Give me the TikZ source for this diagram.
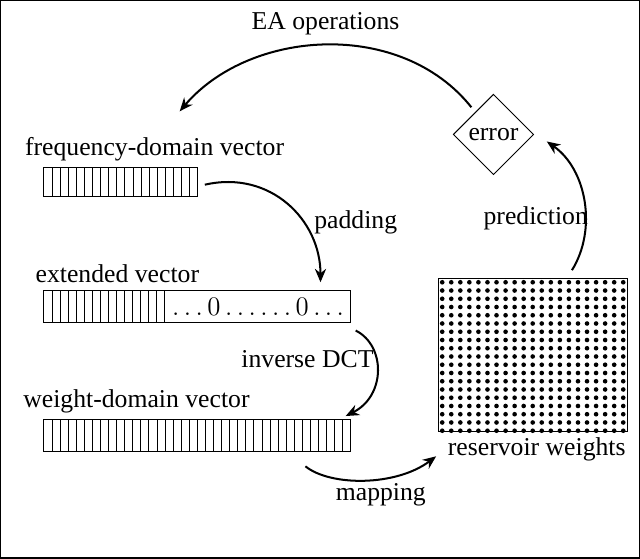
\documentclass[tikz,border=0pt]{standalone}
\usepackage{fontspec}
\setmainfont{Liberation Serif}
\usetikzlibrary{shapes.geometric,arrows.meta}
\begin{document}
\begin{tikzpicture}[x=0.45pt,y=-0.45pt,font=\fontsize{11.5}{13}\selectfont,
  conn/.style={-{Stealth[length=6pt,width=5pt]},line width=0.9pt},
  lbl/.style={inner sep=1pt}]
\draw[line width=0.6pt] (2,2) rectangle (637,556);
% frequency-domain vector
\draw (45,168) rectangle (198,197);
\foreach \i in {1,...,18} \draw (45+\i*8.05,168) -- (45+\i*8.05,197);
\coordinate (fv) at (205,185);
\node[lbl] (fl) at (155,150) {frequency-domain vector};
% extended vector
\draw (45,290) rectangle (350,322);
\foreach \i in {1,...,15} \draw (45+\i*8,290) -- (45+\i*8,322);
\node[lbl] (ez) at (258,306) {$\ldots0\ldots\ldots0\ldots$};
\node[lbl] (el) at (118,273) {extended vector};
% weight-domain vector
\draw (45,418) rectangle (350,450);
\foreach \i in {1,...,37} \draw (45+\i*8.03,418) -- (45+\i*8.03,450);
\node[lbl] (wl) at (137,400) {weight-domain vector};
% reservoir weights
\draw (437,278) rectangle (625,430);
\foreach \i in {0,...,20} \foreach \j in {0,...,18}
  \fill (441+\i*9,282+\j*8.2) circle (2.3);
\node[lbl] (rl) at (535,448) {reservoir weights};
% error
\node[draw,diamond,minimum width=80*0.45pt,minimum height=80*0.45pt,inner sep=0pt] (err) at (492,135) {error};
% connectors
\coordinate (a1) at (470,108); \coordinate (a2) at (180,112);
\draw[conn] (a1) .. controls (400,20) and (250,30) .. (a2);
\node[lbl] at (325,25) {EA operations};
\coordinate (p2) at (320,282);
\draw[conn] (fv) .. controls (270,170) and (320,220) .. (p2);
\node[lbl] at (355,222) {padding};
\coordinate (d1) at (355,330); \coordinate (d2) at (345,415);
\draw[conn] (d1) .. controls (385,345) and (385,395) .. (d2);
\node[lbl] at (307,358) {inverse DCT};
\coordinate (m1) at (305,465); \coordinate (m2) at (435,455);
\draw[conn] (m1) .. controls (330,485) and (395,485) .. (m2);
\node[lbl] at (380,493) {mapping};
\coordinate (q1) at (570,270); \coordinate (q2) at (545,142);
\draw[conn] (q1) .. controls (595,230) and (585,170) .. (q2);
\node[lbl] at (534,218) {prediction};
\end{tikzpicture}
\end{document}
